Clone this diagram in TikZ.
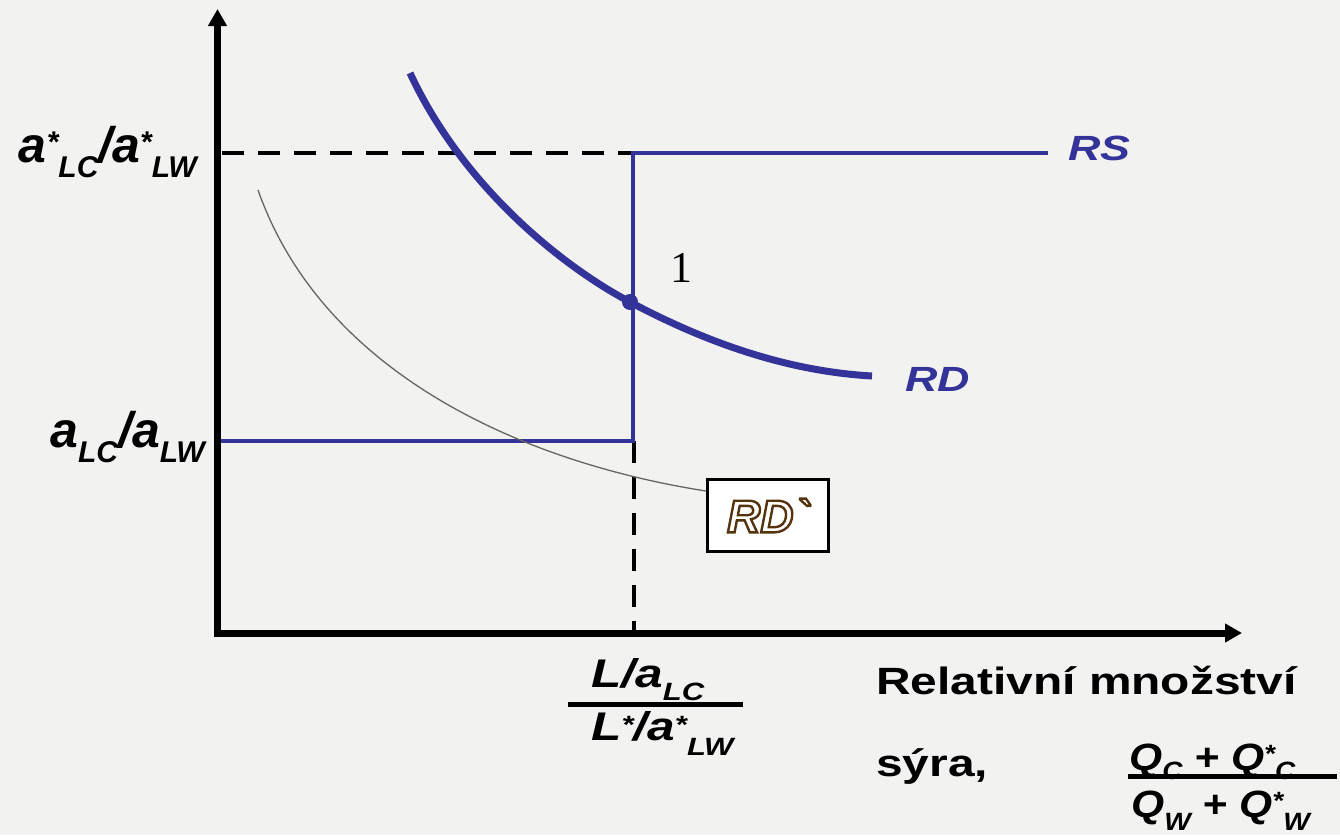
\documentclass[tikz,border=0pt]{standalone}
\usepackage{fontspec}
\setmainfont{Liberation Sans}
\newfontfamily\tnr{Liberation Serif}
\newfontfamily\rdfont[Ligatures=TeXOff]{Liberation Sans}
\usetikzlibrary{arrows.meta}
\definecolor{bg}{HTML}{F2F2F0}
\definecolor{rsblue}{HTML}{333399}
\definecolor{thingray}{HTML}{66665E}
\newcommand\fsz[1]{\fontsize{#1}{#1}\selectfont}
\newcommand\sx[2]{\scalebox{#1}[1]{#2}}
\newcommand\rb[3]{\raisebox{#1pt}{\fsz{#2}#3}}
\tikzset{
  axisline/.style={line width=7pt, -{Triangle[width=18pt,length=17pt]}},
  dashline/.style={line width=4.5pt, dash pattern=on 22pt off 14pt},
  rsline/.style={rsblue, line width=4pt, line join=miter},
  rdline/.style={rsblue, line width=7pt},
  thinline/.style={thingray, line width=1.3pt},
  barline/.style={line width=5pt},
  lbl/.style={inner sep=0pt, anchor=base west},
}
\begin{document}
\begin{tikzpicture}[x=1pt,y=-1pt]
\fill[bg] (0,0) rectangle (1340,835);
\useasboundingbox (0,0) rectangle (1340,835);

% axes
\coordinate (yb) at (217.5,636.5);
\coordinate (ytip) at (217.5,9);
\coordinate (xb) at (214,633);
\coordinate (xtip) at (1242,633);
\draw[axisline] (yb) -- (ytip);
\draw[axisline] (xb) -- (xtip);

% dashed lines
\coordinate (d1) at (222,153);
\coordinate (rs1) at (221,441);
\coordinate (rs2) at (633,441);
\coordinate (rs3) at (633,153);
\coordinate (rs4) at (1048,153);
\coordinate (d2) at (634,441);
\coordinate (d3) at (634,631);
\draw[dashline] (d1) -- (rs3);
\draw[dashline] (d2) -- (d3);

% RS
\draw[rsline] (rs1) -- (rs2) -- (rs3) -- (rs4);

% RD' thin curve
\node[draw, line width=3pt, fill=white, minimum width=121pt, minimum height=72pt, inner sep=0pt] (rdp) at (768,515.5)
  {\special{pdf:code q 1 Tr 2.4 w 0.33 0.2 0.05 RG}\rdfont\fsz{46}\bfseries\itshape RD`\special{pdf:code Q}};
\coordinate (rdpin) at (rdp.west |- 0,491);
\coordinate (rdpstart) at (258,190);
\draw[thinline] (rdpstart) .. controls (322,372) and (520,462) .. (rdpin);

% RD thick curve
\coordinate (rdstart) at (410,73);
\coordinate (E) at (630,302);
\coordinate (rdend) at (872,376);
\draw[rdline] (rdstart) .. controls (462,185) and (560,265) .. (E)
  .. controls (720,350) and (800,372) .. (rdend);
\fill[rsblue] (E) circle (8pt);

% labels
\node[lbl, font=\tnr\fsz{44}] (one) at (670,282) {1};
\node[lbl, text=rsblue, font=\fsz{35}\bfseries\itshape] (rs) at (1068,160) {\sx{1.28}{RS}};
\node[lbl, text=rsblue, font=\fsz{35}\bfseries\itshape] (rd) at (905,391) {\sx{1.28}{RD}};

\node[lbl, anchor=base east, font=\fsz{50}\bfseries\itshape] (pstar) at (197,162)
  {a\rb{10}{30}{*}\rb{-15}{30}{LC}/a\rb{10}{30}{*}\rb{-15}{30}{LW}};
\node[lbl, anchor=base east, font=\fsz{50}\bfseries\itshape] (p) at (205,447)
  {a\rb{-15}{30}{LC}/a\rb{-15}{30}{LW}};

% fraction L/a
\node[lbl, font=\fsz{40}\bfseries\itshape] (fn) at (591,687) {\sx{1.24}{L/a\rb{-13}{25}{LC}}};
\node[lbl, font=\fsz{40}\bfseries\itshape] (fd) at (591,740) {\sx{1.24}{L\rb{7}{25}{*}/a\rb{7}{25}{*}\rb{-15}{25}{LW}}};
\coordinate (b1a) at (568,704.5);
\coordinate (b1b) at (743,704.5);
\draw[barline] (b1a) -- (b1b);

% axis title
\node[lbl, font=\fsz{38}\bfseries] (t1) at (876,694) {\sx{1.26}{Relativní množství}};
\node[lbl, font=\fsz{38}\bfseries] (t2) at (876,776) {\sx{1.26}{sýra,}};
\node[lbl, font=\fsz{38}\bfseries\itshape] (qn) at (1129,770) {\sx{1.12}{Q\rb{-9}{25}{C} + Q\rb{8}{25}{*}\rb{-9}{25}{C}}};
\node[lbl, font=\fsz{38}\bfseries\itshape] (qd) at (1131,817) {\sx{1.12}{Q\rb{-13}{25}{W} + Q\rb{8}{25}{*}\rb{-13}{25}{W}}};
\coordinate (b2a) at (1128,776.5);
\coordinate (b2b) at (1337,776.5);
\draw[barline] (b2a) -- (b2b);
\end{tikzpicture}
\end{document}
